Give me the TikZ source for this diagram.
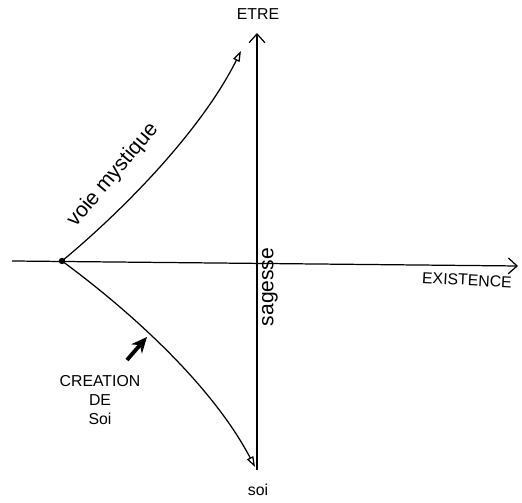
\documentclass[tikz,border=0pt]{standalone}
\usepackage{fontspec}
\setmainfont{Liberation Sans}
\usetikzlibrary{arrows.meta}
\begin{document}
\begin{tikzpicture}[x=0.02cm,y=0.02cm,every node/.style={font=\small,inner sep=1pt},
  axe/.style={line width=0.7pt,-{Straight Barb[length=5pt,width=9pt]}},
  voie/.style={line width=0.7pt,-{Triangle[open,length=6pt,width=4pt]}},
  fleche/.style={line width=2.2pt,-{Stealth[length=9pt,width=8pt]}}]
  \useasboundingbox (0,0) rectangle (522,503);
  \coordinate (xl) at (12,242);
  \coordinate (xr) at (518,237);
  \coordinate (yb) at (257,33);
  \coordinate (yt) at (257,470);
  \coordinate (O) at (62,242);
  \coordinate (haut) at (241,452);
  \coordinate (bas) at (255,36);
  \coordinate (queue) at (127,143);
  \coordinate (pointe) at (147,166);
  \draw[axe] (xl) -- (xr);
  \draw[axe] (yb) -- (yt);
  \draw[voie] (O) .. controls (120,290) and (200,370) .. (haut);
  \draw[voie] (O) .. controls (130,192) and (212,118) .. (bas);
  \fill (O) circle (3.2);
  \draw[fleche] (queue) -- (pointe);
  \node (etre) at (258,489) {ETRE};
  \node (soi) at (258,13) {soi};
  \node[rotate=-3] (existence) at (467,223) {EXISTENCE};
  \node[rotate=90,font=\large] (sagesse) at (270,216) {sagesse};
  \node[rotate=50,font=\large] (voie) at (113,328) {voie mystique};
  \node[align=center] (creation) at (100,103) {CREATION\\DE\\Soi};
\end{tikzpicture}
\end{document}
